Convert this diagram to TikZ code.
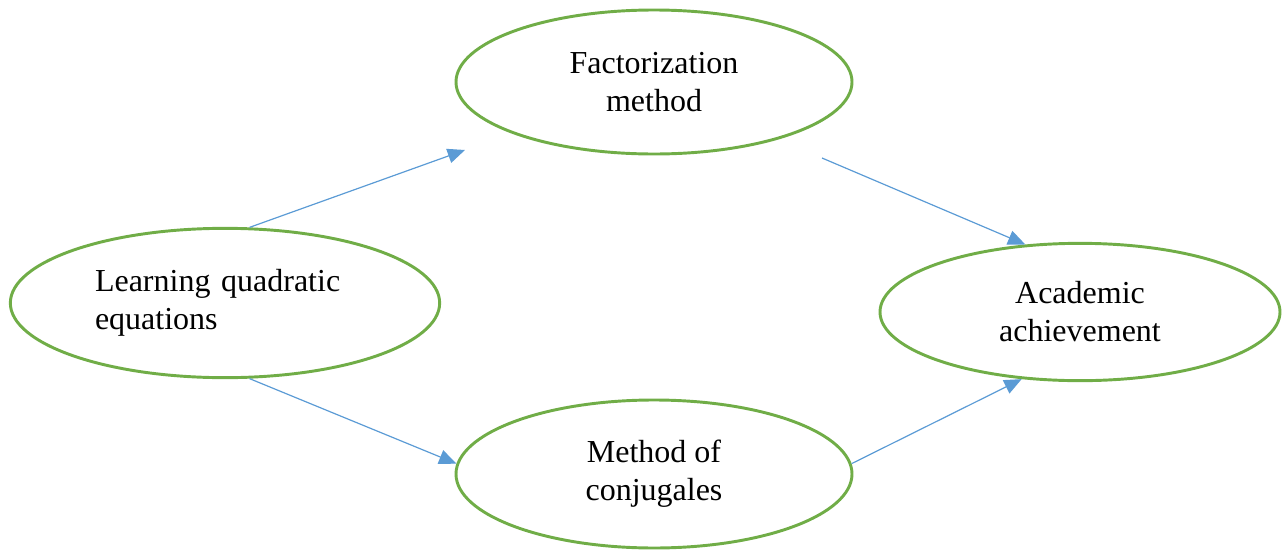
\documentclass[tikz,border=0pt]{standalone}
\usepackage{fontspec}
\setmainfont{Liberation Serif}
\usetikzlibrary{shapes.geometric, arrows.meta}
\definecolor{ovalgreen}{HTML}{70AD47}
\definecolor{linkblue}{HTML}{5B9BD5}
\tikzset{
        oval/.style={ellipse, draw=ovalgreen, line width=2.2pt, inner sep=0pt,
                     align=center, font=\fontsize{24}{28.5}\selectfont},
        link/.style={draw=linkblue, line width=0.9pt,
                     -{Triangle[length=13pt, width=11pt, fill=linkblue]}} % filled head
        }

\begin{document}
\begin{tikzpicture}[x=0.75pt, y=-0.75pt]
        \useasboundingbox (0,0) rectangle (1282,550);
        \node[oval, minimum width=297pt, minimum height=108pt](fact) at (654,82){Factorization\\method};
        \node[oval, minimum width=322pt, minimum height=112pt, align=left, text width=195pt](learn) at (225,303){Learning quadratic\\equations};
        \node[oval, minimum width=300pt, minimum height=103pt](acad) at (1080,312){Academic\\achievement};
        \node[oval, minimum width=297pt, minimum height=111pt](conj) at (654,474){Method of\\conjugales};
        \coordinate (tipfact) at (465,150);
        \coordinate (tailfact) at (822,158);
        \draw[link] (learn.72) -- (tipfact);
        \draw[link] (tailfact) -- (acad.129);
        \draw[link] (learn.-72) -- (conj.177);
        \draw[link] (conj.3.5) -- (acad.229.5);
\end{tikzpicture}
\end{document}
